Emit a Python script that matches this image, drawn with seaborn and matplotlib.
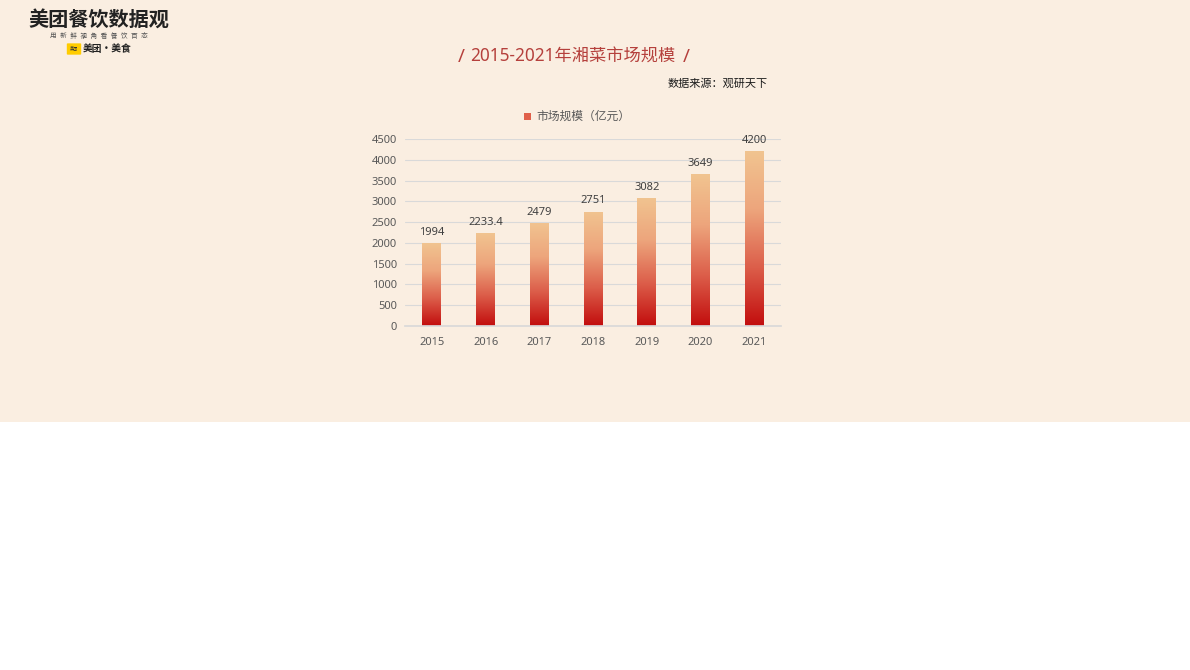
import numpy as np
import seaborn as sns
import matplotlib.pyplot as plt
import pandas as pd
from matplotlib.colors import LinearSegmentedColormap
from matplotlib.patches import Rectangle, FancyBboxPatch

# data
years = ['2015', '2016', '2017', '2018', '2019', '2020', '2021']
market_size = [1994, 2233.4, 2479, 2751, 3082, 3649, 4200]
value_labels = ['1994', '2233.4', '2479', '2751', '3082', '3649', '4200']
y_ticks = [0, 500, 1000, 1500, 2000, 2500, 3000, 3500, 4000, 4500]

sns.set_theme(style='white')
plt.rcParams['font.family'] = ['Noto Sans', 'Noto Sans CJK SC', 'DejaVu Sans']

bg = '#FAEEE1'
grad = LinearSegmentedColormap.from_list('bar', ['#C20D0D', '#DC5E4A', '#EDA57C', '#F1C490'])

fig = plt.figure(figsize=(11.9, 6.7), dpi=100, facecolor='white')
fig.patches.append(Rectangle((0, 1 - 422 / 670), 1, 422 / 670, transform=fig.transFigure,
                             facecolor=bg, edgecolor='none', zorder=-10))

ax = fig.add_axes([405 / 1190, 1 - 326 / 670, 376 / 1190, 187 / 670])
ax.set_facecolor(bg)

df = pd.DataFrame({'year': years, 'size': market_size})
sns.barplot(data=df, x='year', y='size', width=0.35, color='#E07050', linewidth=0, ax=ax, zorder=2)

# gradient fill inside each bar
g = np.linspace(0, 1, 256).reshape(-1, 1)
for p, lab in zip(ax.patches, value_labels):
    x0, y0 = p.get_x(), p.get_y()
    w, h = p.get_width(), p.get_height()
    p.set_facecolor('none')
    p.set_edgecolor('none')
    im = ax.imshow(g, cmap=grad, origin='lower', aspect='auto',
                   extent=[x0, x0 + w, y0, y0 + h], zorder=2)
    im.set_clip_path(p)
    ax.text(x0 + w / 2, h + 130, lab, ha='center', va='bottom', fontsize=8, color='#404040')

ax.set_xlim(-0.5, 6.5)
ax.set_ylim(0, 4500)
ax.set_yticks(y_ticks)
ax.set_xlabel('')
ax.set_ylabel('')
ax.grid(axis='y', color='#D9D9D9', linewidth=0.8, zorder=0)
ax.set_axisbelow(True)
for s in ['top', 'right', 'left']:
    ax.spines[s].set_visible(False)
ax.spines['bottom'].set_color('#D9D9D9')
ax.tick_params(axis='both', length=0, labelsize=8, labelcolor='#595959')
ax.tick_params(axis='x', pad=8)
ax.tick_params(axis='y', pad=6)

# title and source
title_red = '#B5403C'
fig.text(461 / 1190, 1 - 57 / 670, '/', ha='center', va='center',
         fontsize=13.5, fontweight='bold', color=title_red)
fig.text(573 / 1190, 1 - 57 / 670, '2015-2021年湘菜市场规模', ha='center', va='center',
         fontsize=12.4, color=title_red)
fig.text(686 / 1190, 1 - 57 / 670, '/', ha='center', va='center',
         fontsize=13.5, fontweight='bold', color=title_red)
fig.text(768 / 1190, 1 - 84 / 670, '数据来源：观研天下', ha='right', va='center',
         fontsize=8, color='#1A1A1A')

# legend
fig.patches.append(Rectangle((524 / 1190, 1 - 120 / 670), 7 / 1190, 7 / 670,
                             transform=fig.transFigure, facecolor='#E0604A', edgecolor='none'))
fig.text(536 / 1190, 1 - 116 / 670, '市场规模（亿元）', ha='left', va='center',
         fontsize=8.5, color='#595959')

# logo
fig.text(99 / 1190, 1 - 21 / 670, '美团餐饮数据观', ha='center', va='center',
         fontsize=14.5, fontweight='bold', color='#222222')
fig.text(99 / 1190, 1 - 36 / 670, '用  新  鲜  视  角  看  餐  饮  百  态', ha='center', va='center',
         fontsize=4.8, color='#555555')
fig.patches.append(FancyBboxPatch((68 / 1190, 1 - 54 / 670), 12 / 1190, 10 / 670,
                                  boxstyle='round,pad=0.001', transform=fig.transFigure,
                                  facecolor='#FFCC00', edgecolor='none'))
fig.text(74 / 1190, 1 - 49 / 670, '美团', ha='center', va='center', fontsize=3, color='#333333')
fig.text(83 / 1190, 1 - 49 / 670, '美团·美食', ha='left', va='center', family=['Noto Sans CJK SC'],
         fontsize=7, fontweight='bold', color='#222222')

fig.savefig('out.png', dpi=100, facecolor='white')
